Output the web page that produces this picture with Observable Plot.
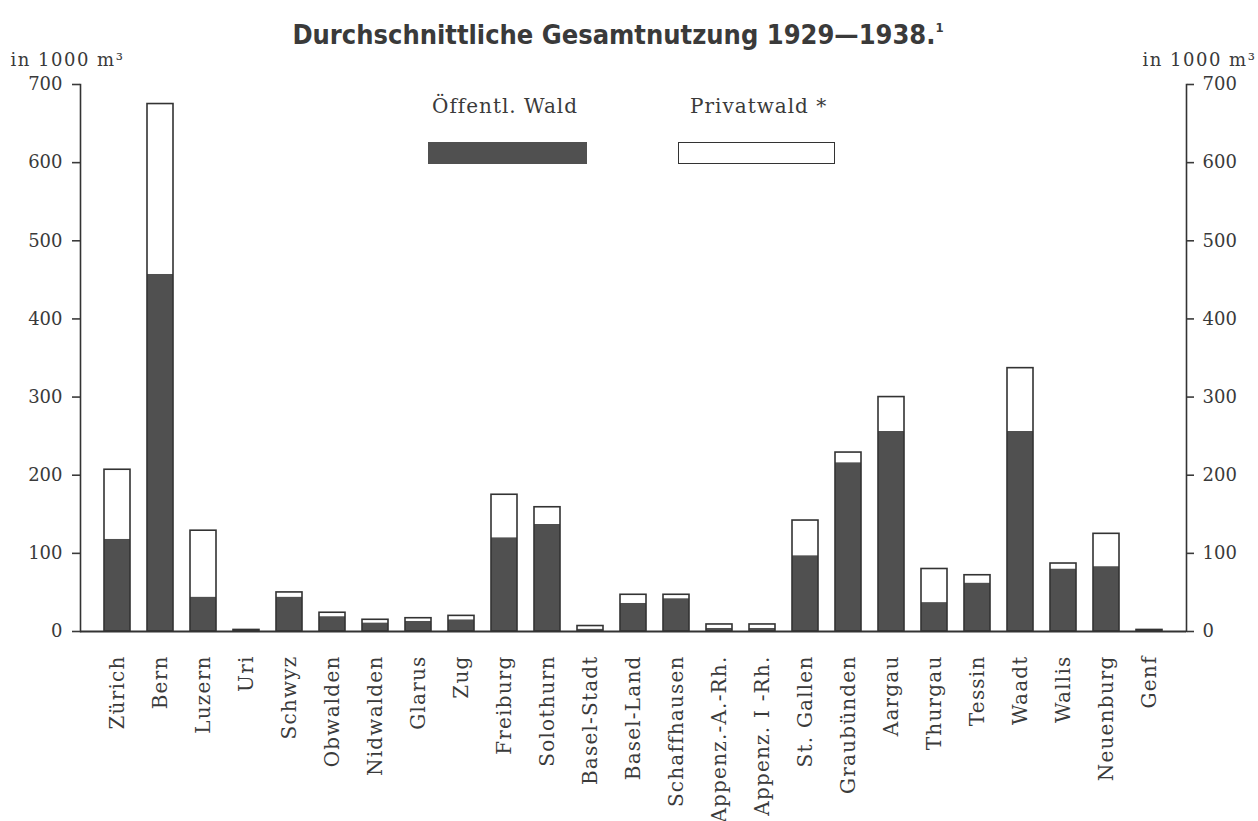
<!DOCTYPE html>
<html>
<head>
<meta charset="utf-8">
<script src="https://cdn.jsdelivr.net/npm/d3@7"></script>
<script src="https://cdn.jsdelivr.net/npm/@observablehq/plot@0.6"></script>
<style>
  html, body { margin: 0; padding: 0; background: #fff; }
  body { width: 1258px; height: 821px; position: relative; overflow: hidden; font-family: "DejaVu Serif", serif; color: #3a3a3a; }
  #title { position: absolute; top: 10px; left: 0; width: 1236px; text-align: center; font-family: "DejaVu Sans Condensed", "Liberation Sans Narrow", "DejaVu Sans", sans-serif; font-stretch: condensed; font-weight: bold; font-size: 27px; color: #3a3a3a; line-height: 36px; }
  #title sup { font-size: 13px; vertical-align: 12px; }
  #chart { position: absolute; top: 55px; left: 0; }
  .leg-text { position: absolute; font-size: 20px; letter-spacing: 1px; color: #3a3a3a; }
  .leg-box { position: absolute; box-sizing: border-box; height: 22px; }
  svg g[aria-label="x-axis tick label"] text { letter-spacing: 1.2px; }
  svg g.unit text { letter-spacing: 1.5px; }
</style>
</head>
<body>
<div id="title">Durchschnittliche Gesamtnutzung 1929—1938.<sup>1</sup></div>
<div id="chart"></div>
<div class="leg-text" style="left:432px; top:94px;">Öffentl. Wald</div>
<div class="leg-box" style="left:428px; top:142px; width:159px; background:#505050;"></div>
<div class="leg-text" style="left:690px; top:94px;">Privatwald *</div>
<div class="leg-box" style="left:678px; top:142px; width:157px; background:#fff; border:1.5px solid #333;"></div>
<script>
const cantons = ["Zürich","Bern","Luzern","Uri","Schwyz","Obwalden","Nidwalden","Glarus","Zug","Freiburg","Solothurn","Basel-Stadt","Basel-Land","Schaffhausen","Appenz.-A.-Rh.","Appenz. I -Rh.","St. Gallen","Graubünden","Aargau","Thurgau","Tessin","Waadt","Wallis","Neuenburg","Genf"];
const publicWald = [118,457,44,2,44,19,11,13,15,120,137,3,36,42,4,4,97,216,256,37,62,256,80,83,2];
const privatWald = [89,218,85,0,6,5,4,4,5,55,22,4,11,5,5,5,45,13,44,43,10,81,7,42,0];
const yTicks = [0,100,200,300,400,500,600,700];
const unitLabel = "in 1000 m³";

const table = cantons.map((c, i) => ({canton: c, pub: publicWald[i], total: publicWald[i] + privatWald[i]}));

const chart = Plot.plot({
  width: 1258,
  height: 766,
  marginTop: 29,
  marginBottom: 190,
  marginLeft: 80,
  marginRight: 72,
  x: {domain: cantons, paddingInner: 0.4, paddingOuter: 0.45, label: null},
  y: {domain: [0, 700], label: null},
  style: {fontFamily: "DejaVu Serif", fontSize: "18px", color: "#3a3a3a", background: "white", overflow: "visible"},
  marks: [
    Plot.barY(table, {x: "canton", y1: 0, y2: "pub", fill: "#505050"}),
    Plot.barY(table, {x: "canton", y1: "pub", y2: "total", fill: "white"}),
    Plot.barY(table, {x: "canton", y1: 0, y2: "total", fill: "none", stroke: "#333", strokeWidth: 1.6}),
    Plot.ruleY([0], {stroke: "#333", strokeWidth: 2}),
    Plot.frame({anchor: "left", stroke: "#333", strokeWidth: 1.6}),
    Plot.frame({anchor: "right", stroke: "#333", strokeWidth: 1.6}),
    Plot.axisY({anchor: "left", ticks: yTicks, tickSize: 8, tickPadding: 10, strokeWidth: 1.6, label: null}),
    Plot.axisY({anchor: "right", ticks: yTicks, tickSize: 7, tickPadding: 9, strokeWidth: 1.6, label: null}),
    Plot.axisX({tickRotate: -90, tickSize: 0, tickPadding: 24, fontSize: 20, label: null}),
    Plot.text([unitLabel], {frameAnchor: "top-left", textAnchor: "start", dx: -70, dy: -31, fontSize: 18, className: "unit"}),
    Plot.text([unitLabel], {frameAnchor: "top-right", textAnchor: "start", dx: -44, dy: -31, fontSize: 18, className: "unit"})
  ]
});
document.getElementById("chart").appendChild(chart);
</script>
</body>
</html>
